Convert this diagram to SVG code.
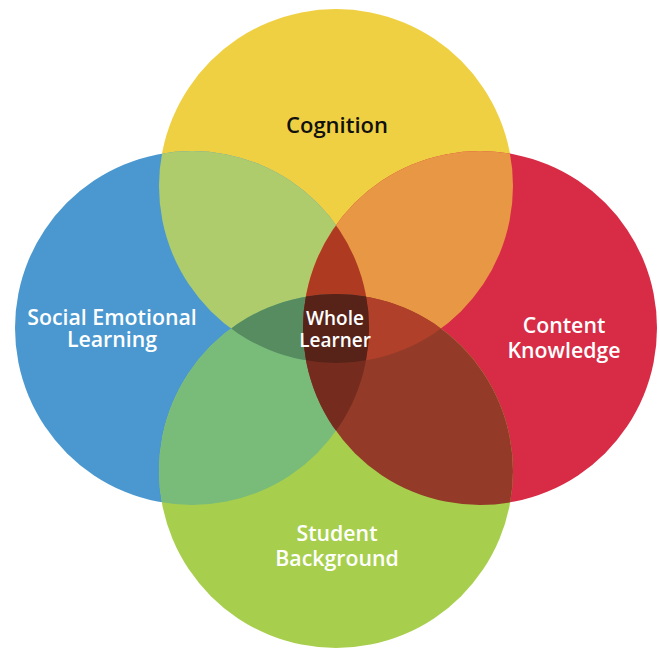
<svg xmlns="http://www.w3.org/2000/svg" width="660" height="650" viewBox="0 0 660 650">
<style>
.lbl{font-family:"Open Sans",Lato,"Liberation Sans",sans-serif;font-weight:600;text-anchor:middle}
.w{fill:#ffffff}
.k{fill:#111111}
</style>
<defs>
<circle id="cy" cx="336" cy="186" r="177"/>
<circle id="cb" cx="192" cy="328" r="177"/>
<circle id="cr" cx="480" cy="328" r="177"/>
<circle id="cg" cx="336" cy="471" r="177"/>
<clipPath id="kY"><use href="#cy"/></clipPath>
<clipPath id="kB"><use href="#cb"/></clipPath>
<clipPath id="kR"><use href="#cr"/></clipPath>
<clipPath id="kG"><use href="#cg"/></clipPath>
</defs>
<rect width="660" height="650" fill="#ffffff"/>
<g id="cognition"><use href="#cy" fill="#EFD042"/></g>
<g id="social-emotional"><use href="#cb" fill="#4A98CF"/></g>
<g id="content-knowledge"><use href="#cr" fill="#D82B45"/></g>
<g id="student-background"><use href="#cg" fill="#A7CF4D"/></g>
<g id="overlaps">
<g clip-path="url(#kY)"><use href="#cb" fill="#AFCC6D"/></g>
<g clip-path="url(#kY)"><use href="#cr" fill="#E89745"/></g>
<g clip-path="url(#kB)"><use href="#cg" fill="#79BC7A"/></g>
<g clip-path="url(#kR)"><use href="#cg" fill="#933B28"/></g>
<g clip-path="url(#kY)"><g clip-path="url(#kB)"><use href="#cr" fill="#AE3A22"/></g></g>
<g clip-path="url(#kY)"><g clip-path="url(#kB)"><use href="#cg" fill="#568C60"/></g></g>
<g clip-path="url(#kY)"><g clip-path="url(#kR)"><use href="#cg" fill="#B0402A"/></g></g>
<g clip-path="url(#kB)"><g clip-path="url(#kR)"><use href="#cg" fill="#752C1F"/></g></g>
</g>
<g id="whole-learner">
<g clip-path="url(#kY)"><g clip-path="url(#kB)"><g clip-path="url(#kR)"><use href="#cg" fill="#572218"/></g></g></g>
<text class="lbl w" x="335" y="325" font-size="19">Whole</text>
<text class="lbl w" x="335" y="347" font-size="19">Learner</text>
</g>
<g id="labels">
<text class="lbl k" x="337" y="133" font-size="22">Cognition</text>
<text class="lbl w" x="112" y="325" font-size="21.3">Social Emotional</text>
<text class="lbl w" x="112" y="347" font-size="21.3">Learning</text>
<text class="lbl w" x="564" y="333" font-size="21.3">Content</text>
<text class="lbl w" x="564" y="358" font-size="21.3">Knowledge</text>
<text class="lbl w" x="337" y="541" font-size="21.3">Student</text>
<text class="lbl w" x="337" y="566" font-size="21.3">Background</text>
</g>
</svg>
